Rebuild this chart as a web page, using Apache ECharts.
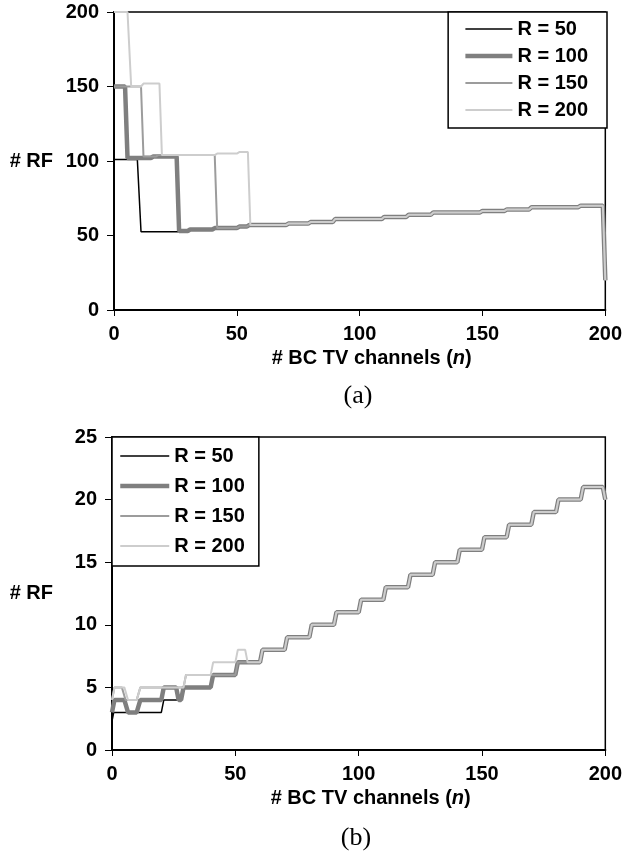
<!DOCTYPE html>
<html><head><meta charset="utf-8">
<script src="https://cdn.jsdelivr.net/npm/echarts@6/dist/echarts.min.js"></script>
<style>html,body{margin:0;padding:0;background:#fff}#c{width:625px;height:856px}</style>
</head><body><div id="c"></div>
<script>
// ---- data ----
const seriesNames = ['R = 50', 'R = 100', 'R = 150', 'R = 200'];
const xTicks = [0, 50, 100, 150, 200];
const yTicksA = [0, 50, 100, 150, 200];
const yTicksB = [0, 5, 10, 15, 20, 25];

// (a) individual heads: breakpoints (n) and # RF
const aN50 = [0, 9.5, 11, 26];
const aRF50 = [101, 101, 52.5, 52.5];
const aN100 = [0, 4.5, 5.5, 15, 16, 25.5, 26.5];
const aRF100 = [150, 150, 102, 102, 103, 103, 53];
const aN150 = [0, 11, 12, 17, 18, 41, 42];
const aRF150 = [150, 150, 103, 103, 104, 104, 55];
const aN200 = [0, 5.5, 7, 11, 12, 18.5, 19.5, 41, 42, 50, 51, 54.5, 55.5];
const aRF200 = [200, 200, 150, 150, 152, 152, 104, 104, 105, 105, 106, 106, 57];
// (a) common tail
const aTailN = [27, 30, 31, 40, 41, 50, 51, 54, 55, 70, 71, 79, 80, 89, 90, 109, 110, 119, 120, 129, 130, 149, 150, 159, 160, 169, 170, 189, 190, 199, 200];
const aTailRF = [53, 53, 54, 54, 55, 55, 56, 56, 57, 57, 58, 58, 59, 59, 61, 61, 62.5, 62.5, 64, 64, 65.5, 65.5, 66.5, 66.5, 67.5, 67.5, 69, 69, 70, 70, 20];

// (b) individual heads
const bN50 = [0, 0.7, 20, 21, 28, 29];
const bRF50 = [2.3, 3, 3, 4, 4, 5];
const bN100 = [0, 1, 5, 6.5, 10, 11.5, 20, 21, 26, 27, 28, 29];
const bRF100 = [3, 4, 4, 3, 3, 4, 4, 5, 5, 4, 4, 5];
const bN150 = [0, 1, 4, 5.5, 10, 11.5, 29, 30, 41];
const bRF150 = [4, 5, 5, 4, 4, 5, 5, 6, 6];
const bN200 = [0, 1, 5, 6.5, 10, 11.5, 29, 30, 40, 41, 50, 51, 54, 55];
const bRF200 = [4, 5, 5, 4, 4, 5, 5, 6, 6, 7, 7, 8, 8, 7];
// (b) common tail
const bTailN = [40, 41, 50, 51, 60, 61, 70, 71, 80, 81, 90, 91, 100, 101, 110, 111, 120, 121, 130, 131, 140, 141, 150, 151, 160, 161, 170, 171, 180, 181, 190, 191, 199, 200];
const bTailRF = [5, 6, 6, 7, 7, 8, 8, 9, 9, 10, 10, 11, 11, 12, 12, 13, 13, 14, 14, 15, 15, 16, 16, 17, 17, 18, 18, 19, 19, 20, 20, 21, 21, 20];

// ---- build ----
function build(hn, hv, tn, tv) {
  const out = hn.map((n, i) => [n, hv[i]]);
  const last = hn[hn.length - 1];
  tn.forEach((n, i) => { if (n > last) out.push([n, tv[i]]); });
  return out;
}
const styles = [
  { color: '#000000', width: 1.5 },
  { color: '#7f7f7f', width: 4.5 },
  { color: '#9c9c9c', width: 2 },
  { color: '#cdcdcd', width: 2 }
];
const aHeads = [[aN50, aRF50], [aN100, aRF100], [aN150, aRF150], [aN200, aRF200]];
const bHeads = [[bN50, bRF50], [bN100, bRF100], [bN150, bRF150], [bN200, bRF200]];

const FONT = '"Liberation Sans", Arial, sans-serif';
const lab = { color: '#000', fontSize: 20, fontWeight: 'bold', fontFamily: FONT };

function xAx(gi) {
  return {
    gridIndex: gi, type: 'value', min: 0, max: 200, interval: 50,
    name: '# BC TV channels ({i|n})', nameLocation: 'middle', nameGap: 38,
    nameTextStyle: Object.assign({}, lab, { padding: [0, 0, 0, 24], rich: { i: Object.assign({}, lab, { fontStyle: 'italic' }) } }),
    axisLine: { show: true, onZero: false, lineStyle: { color: '#000', width: 2 } },
    axisTick: { show: true, length: 6, lineStyle: { color: '#000', width: 1 } },
    axisLabel: Object.assign({ margin: 14 }, lab),
    splitLine: { show: false }
  };
}
function yAx(gi, max, interval, gap) {
  return {
    gridIndex: gi, type: 'value', min: 0, max: max, interval: interval,
    name: '# RF', nameLocation: 'middle', nameRotate: 0, nameGap: gap,
    nameTextStyle: Object.assign({}, lab, { align: 'right', verticalAlign: 'middle' }),
    axisLine: { show: true, onZero: false, lineStyle: { color: '#000', width: 2 } },
    axisTick: { show: true, length: 7, lineStyle: { color: '#000', width: 1 } },
    axisLabel: Object.assign({ margin: 15 }, lab),
    splitLine: { show: false }
  };
}

const series = [];
aHeads.forEach((h, i) => {
  series.push({
    name: seriesNames[i], type: 'line', xAxisIndex: 0, yAxisIndex: 0,
    symbol: 'none', data: build(h[0], h[1], aTailN, aTailRF),
    lineStyle: { color: styles[i].color, width: styles[i].width }, itemStyle: { color: styles[i].color }
  });
});
bHeads.forEach((h, i) => {
  series.push({
    name: seriesNames[i], type: 'line', xAxisIndex: 1, yAxisIndex: 1,
    symbol: 'none', data: build(h[0], h[1], bTailN, bTailRF),
    lineStyle: { color: styles[i].color, width: styles[i].width }, itemStyle: { color: styles[i].color }
  });
});

const legTxt = Object.assign({}, lab, { lineHeight: 20 });
const chart = echarts.init(document.getElementById('c'), null, { renderer: 'canvas' });
chart.setOption({
  animation: false,
  backgroundColor: '#fff',
  grid: [
    { left: 114, top: 12, width: 493, height: 298, show: true, borderColor: '#000', borderWidth: 1.5, backgroundColor: 'transparent' },
    { left: 112, top: 437, width: 495, height: 313, show: true, borderColor: '#000', borderWidth: 1.5, backgroundColor: 'transparent' }
  ],
  xAxis: [xAx(0), xAx(1)],
  yAxis: [yAx(0, 200, 50, 61), yAx(1, 25, 5, 59)],
  legend: [
    { orient: 'vertical', right: 18, top: 12, padding: [7, 19, 8, 15], itemGap: 7, itemWidth: 47, itemHeight: 20,
      data: seriesNames, textStyle: legTxt, backgroundColor: '#fff', borderColor: '#000', borderWidth: 1.5,
      itemStyle: { opacity: 0 }, lineStyle: { width: 'inherit' }, selectedMode: false, z: 10 },
    { orient: 'vertical', left: 112, top: 437, padding: [9, 14, 10, 6], itemGap: 10, itemWidth: 49, itemHeight: 20,
      data: seriesNames, textStyle: legTxt, backgroundColor: '#fff', borderColor: '#000', borderWidth: 1.5,
      itemStyle: { opacity: 0 }, lineStyle: { width: 'inherit' }, selectedMode: false, z: 10 }
  ],
  graphic: [
    { type: 'text', x: 358, y: 396, style: { text: '(a)', font: '26px "Liberation Serif", "Times New Roman", serif', fill: '#000', align: 'center', verticalAlign: 'middle' } },
    { type: 'text', x: 356, y: 838, style: { text: '(b)', font: '26px "Liberation Serif", "Times New Roman", serif', fill: '#000', align: 'center', verticalAlign: 'middle' } }
  ],
  series: series
});
</script>
</body></html>
